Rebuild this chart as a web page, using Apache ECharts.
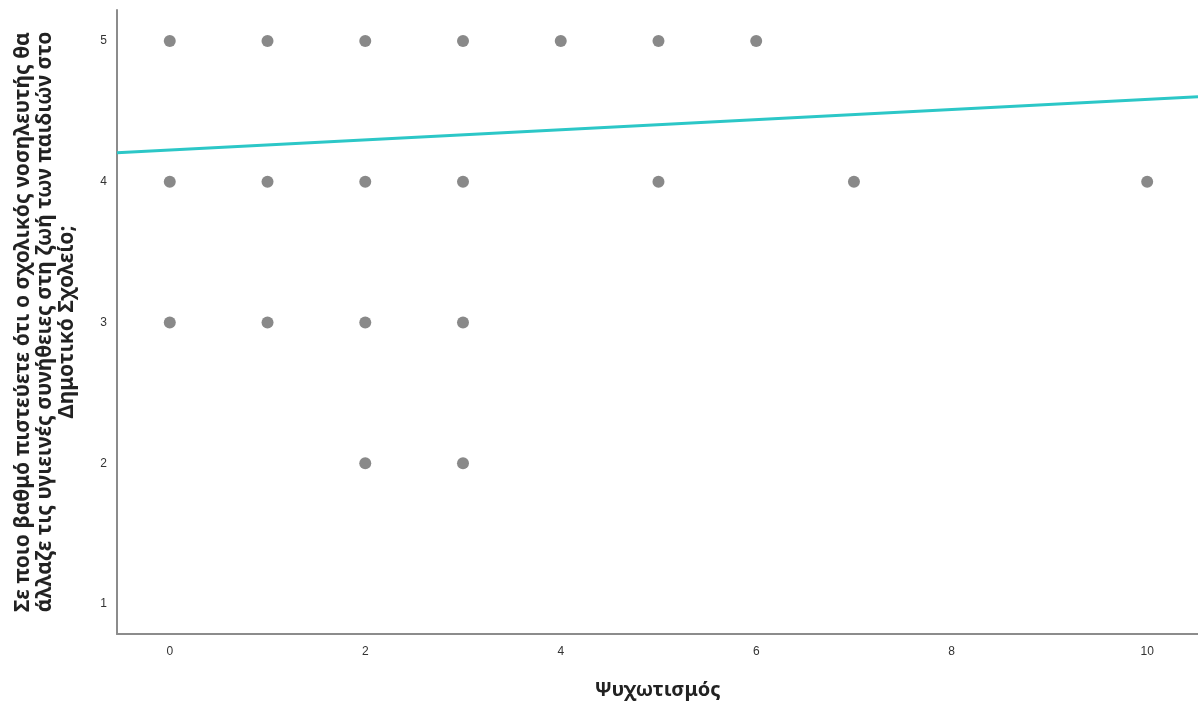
<!DOCTYPE html>
<html>
<head>
<meta charset="utf-8">
<script src="https://cdn.jsdelivr.net/npm/echarts@6/dist/echarts.min.js"></script>
<style>html,body{margin:0;padding:0;background:#fff}#c{width:1198px;height:707px}</style>
</head>
<body>
<div id="c"></div>
<script>
// Scatter points [Ψυχωτισμός, answer]
const xValues = [0,1,2,3,4,5,6, 0,1,2,3,5,7,10, 0,1,2,3, 2,3];
const yValues = [5,5,5,5,5,5,5, 4,4,4,4,4,4,4, 3,3,3,3, 2,2];
// Fit line endpoints
const fitX = [-0.54, 10.52];
const fitY = [4.206, 4.604];
const xTicks = [0,2,4,6,8,10];
const yTicks = [1,2,3,4,5];
const xTitle = 'Ψυχωτισμός';
const yTitle = 'Σε ποιο βαθμό πιστεύετε ότι ο σχολικός νοσηλευτής θα\nάλλαζε τις υγιεινές συνήθειες στη ζωή των παιδιών στο\nΔημοτικό Σχολείο;';

const points = xValues.map((x,i)=>[x,yValues[i]]);
const fit = fitX.map((x,i)=>[x,fitY[i]]);

const chart = echarts.init(document.getElementById('c'));
chart.setOption({
  animation:false,
  backgroundColor:'#fff',
  grid:{left:117,top:10,right:0,bottom:73,containLabel:false},
  xAxis:{
    type:'value', min:-0.54, max:10.52,
    name:xTitle, nameLocation:'middle', nameGap:46,
    nameTextStyle:{fontFamily:'Noto Sans',fontSize:20,fontWeight:'bold',color:'#222'},
    axisLine:{show:true,onZero:false,lineStyle:{color:'#8c8c8c',width:2}},
    axisTick:{show:false},
    splitLine:{show:false},
    axisLabel:{margin:12,fontFamily:'Liberation Sans',fontSize:12,color:'#333',
      showMinLabel:false,showMaxLabel:false,
      formatter:v=> xTicks.includes(Math.round(v*1000)/1000)?String(v):''}
  },
  yAxis:{
    type:'value', min:0.787, max:5.22,
    name:yTitle, nameLocation:'middle', nameGap:39, nameRotate:90,
    nameTextStyle:{fontFamily:'Noto Sans',fontSize:21,fontWeight:'bold',color:'#222',lineHeight:22,align:'center'},
    axisLine:{show:true,onZero:false,lineStyle:{color:'#8c8c8c',width:2}},
    axisTick:{show:false},
    splitLine:{show:false},
    axisLabel:{margin:10,fontFamily:'Liberation Sans',fontSize:12,color:'#333',
      showMinLabel:false,showMaxLabel:false,
      formatter:v=> yTicks.includes(Math.round(v*1000)/1000)?String(v):''}
  },
  series:[
    {type:'scatter',data:points,symbolSize:12,itemStyle:{color:'#6b6b6b'},z:3},
    {type:'line',data:fit,symbol:'none',lineStyle:{color:'#2cc7c7',width:3},z:2}
  ]
});
</script>
</body>
</html>
